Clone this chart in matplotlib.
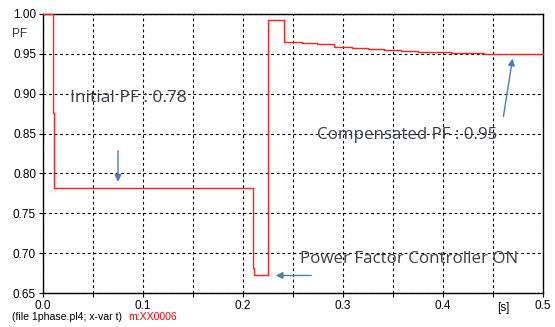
import matplotlib.pyplot as plt
from matplotlib.ticker import MultipleLocator

# step breakpoints of the PF trace
times = [0.0, 0.010, 0.011, 0.210, 0.211, 0.225, 0.241, 0.259, 0.274, 0.291,
         0.309, 0.325, 0.341, 0.358, 0.375, 0.408, 0.441, 0.5]
pf = [1.0, 0.876, 0.782, 0.681, 0.673, 0.993, 0.965, 0.964, 0.962, 0.959,
      0.9575, 0.956, 0.9546, 0.9534, 0.952, 0.9516, 0.950, 0.950]

x_ticks = [0.0, 0.1, 0.2, 0.3, 0.4, 0.5]
x_tick_labels = ['0.0', '0.1', '0.2', '0.3', '0.4', '0.5']
y_ticks = [0.65, 0.70, 0.75, 0.80, 0.85, 0.90, 0.95, 1.00]

label_font = 'Liberation Sans'
note_font = 'Open Sans'
arrow_color = '#4a7ebb'
note_color = '#3a3f4a'

fig = plt.figure(figsize=(5.55, 3.27), dpi=100)
ax = fig.add_axes([43 / 555, 1 - 293 / 327, 500 / 555, 279 / 327])

ax.step(times, pf, where='post', color='#ff2020', lw=1.0, clip_on=False, zorder=3)

ax.set_xlim(0, 0.5)
ax.set_ylim(0.65, 1.0)
ax.set_xticks(x_ticks)
ax.set_xticklabels(x_tick_labels)
ax.set_yticks(y_ticks)
ax.set_yticklabels([f'{v:.2f}' for v in y_ticks])
ax.xaxis.set_minor_locator(MultipleLocator(0.05))
ax.tick_params(which='both', direction='out', length=3, width=0.8, labelsize=8.5, pad=2)
for lab in ax.get_xticklabels() + ax.get_yticklabels():
    lab.set_fontfamily(label_font)

ax.grid(True, which='both', color='black', linestyle=(0, (2.5, 2.5)), lw=0.8)
for s in ax.spines.values():
    s.set_linewidth(1.0)

# axis labels placed like the ATP plot
ax.text(-0.016, 0.975, 'PF', fontsize=8.5, family=label_font, ha='right', va='center',
        color='#333333', transform=ax.transData)
ax.text(0.46, 0.65 - 0.011, '[s]', fontsize=8.5, family=label_font, ha='center', va='top',
        transform=ax.transData)

# annotations
ax.text(0.027, 0.894, 'Initial PF : 0.78', fontsize=12.5, family=note_font, color=note_color,
        ha='left', va='center')
ax.annotate('', xy=(0.075, 0.786), xytext=(0.075, 0.832),
            arrowprops=dict(arrowstyle='-|>', color=arrow_color, lw=1.0, mutation_scale=10))

ax.text(0.274, 0.848, 'Compensated PF : 0.95', fontsize=12.2, family=note_font, color=note_color,
        ha='left', va='center')
ax.annotate('', xy=(0.47, 0.9475), xytext=(0.46, 0.868),
            arrowprops=dict(arrowstyle='-|>', color=arrow_color, lw=1.0, mutation_scale=10))

ax.text(0.257, 0.693, 'Power Factor Controller ON', fontsize=12.2, family=note_font,
        color=note_color, ha='left', va='center')
ax.annotate('', xy=(0.23, 0.672), xytext=(0.271, 0.672),
            arrowprops=dict(arrowstyle='-|>', color=arrow_color, lw=1.0, mutation_scale=10))

# footer
fig.text(12 / 555, 1 - 317 / 327, '(file 1phase.pl4; x-var t)', fontsize=7.6, family=label_font,
         ha='left', va='center')
fig.text(128 / 555, 1 - 317 / 327, 'm:XX0006', fontsize=7.6, family=label_font, color='red',
         ha='left', va='center')

fig.savefig('out.png', dpi=100)
